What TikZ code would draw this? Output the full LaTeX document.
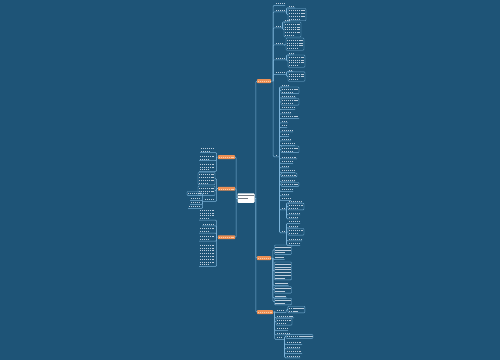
\documentclass[tikz,border=0pt]{standalone}
\begin{document}
\definecolor{bgc}{RGB}{30,84,119}
\definecolor{linec}{RGB}{125,180,218}
\definecolor{txtc}{RGB}{190,207,222}
\definecolor{orng}{RGB}{238,145,85}
\definecolor{orngt}{RGB}{250,205,170}
\definecolor{ctrt}{RGB}{110,120,130}
\tikzset{
 tlg/.style n args={3}{inner sep=0pt, outer sep=0pt, minimum width=#1pt, minimum height={#2*2.8pt+1pt},
   path picture={\foreach \k in {1,...,#2}{
      \pgfmathsetmacro\ww{((\k==#2) && (#2>1)) ? 0.6*(#1-1.6) : (#1-1.6)}
      \draw[#3, line width=0.65pt, dash pattern=on 1.6pt off 0.35pt] (path picture bounding box.north west) ++(0.8,\k*2.8-0.7) -- ++(\ww,0);}}},
 tl/.style 2 args={tlg={#1}{#2}{txtc}},
 bx/.style 2 args={tlg={#1}{#2}{txtc}, draw=linec, line width=0.4pt, rounded corners=0.8pt},
 og/.style={tlg={#1}{1}{orngt}, fill=orng, rounded corners=0.6pt},
 con/.style={draw=linec, line width=0.55pt, rounded corners=1pt},
}
\newcommand\cu[2]{\draw[con] (#1) |- (#2.south west) -- (#2.south east);}
\newcommand\cb[2]{\draw[con] (#1) |- (#2.west);}
\newcommand\cul[2]{\draw[con] (#1) |- (#2.south east) -- (#2.south west);}
\newcommand\cbl[2]{\draw[con] (#1) |- (#2.east);}
\begin{tikzpicture}[x=1pt,y=-1pt]
\fill[bgc] (0,0) rectangle (500,360);
\useasboundingbox (0,0) rectangle (500,360);
% centre
\node[tlg={17}{2}{ctrt}, fill=white, minimum height=9.5pt, rounded corners=0.8pt] (ctr) at (246,198) {};
% main branches
\node[og=14, anchor=north west] (R1) at (257,79.2) {};
\node[og=14, anchor=north west] (R2) at (257,256.2) {};
\node[og=16, anchor=north west] (R3) at (257,310.2) {};
\node[og=17, anchor=north east] (L1) at (235,155.2) {};
\node[og=17, anchor=north east] (L2) at (235,186.8) {};
\node[og=17, anchor=north east] (L3) at (235,235.3) {};
\coordinate (rt) at (255.8,198);
\coordinate (lt) at (236.2,198);
\draw[con] (ctr.east) -- (rt);
\draw[con] (ctr.west) -- (lt);
\cb{rt}{R1}\cb{rt}{R2}\cb{rt}{R3}
\cbl{lt}{L1}\cbl{lt}{L2}\cbl{lt}{L3}
% ---------- R1 ----------
\coordinate (t1) at (273.2,81.1);
\draw[con] (R1.east) -- (t1);
\node[tl={10}{1}, anchor=north west] (a1) at (275,1.5) {};
\node[tl={10}{1}, anchor=north west] (a2) at (275,8) {};
\node[tl={6}{1}, anchor=north west] (a3) at (275,24) {};
\node[tl={8}{1}, anchor=north west] (a4) at (275,41) {};
\node[tl={10}{1}, anchor=north west] (a5) at (275,56) {};
\node[tl={10}{1}, anchor=north west] (a6) at (275,70.5) {};
\node[tl={3}{1}, anchor=north west] (a7) at (275,153) {};
\foreach \n in {a1,a2,a3,a4,a5,a6,a7} {\cu{t1}{\n}}
\node[tl={7}{1}, anchor=north west] (c2) at (288,4) {};
\node[bx={18}{4}, anchor=north west] (b2) at (288,8.5) {};
\coordinate (s2) at (286.5,11.8);
\cu{s2}{c2}\cb{s2}{b2}
\node[tl={6}{1}, anchor=north west] (c3) at (284,18) {};
\node[bx={17}{5}, anchor=north west] (b3) at (284,22) {};
\coordinate (s3) at (282.5,27.8);
\cu{s3}{c3}\cb{s3}{b3}
\node[bx={18}{4}, anchor=north west] (b4) at (286,38) {};
\coordinate (s4) at (284.5,44.8);
\cb{s4}{b4}
\node[tl={6}{1}, anchor=north west] (c5) at (288,51) {};
\node[bx={17}{4}, anchor=north west] (b5) at (288,55) {};
\coordinate (s5) at (286.5,59.8);
\cu{s5}{c5}\cb{s5}{b5}
\node[tl={5}{1}, anchor=north west] (c6) at (288,67.8) {};
\node[bx={17}{3}, anchor=north west] (b6) at (288,71.8) {};
\coordinate (s6) at (286.5,74.3);
\cu{s6}{c6}\cb{s6}{b6}
\draw[con] (a2.south east) -- (s2);
\draw[con] (a3.south east) -- (s3);
\draw[con] (a4.south east) -- (s4);
\draw[con] (a5.south east) -- (s5);
\draw[con] (a6.south east) -- (s6);
% a7 subtree
\coordinate (s7) at (279.5,156.8);
\draw[con] (a7.south east) -- (s7);
\foreach \i/\yy/\w/\n/\b in {1/83/8/1/0,2/87/18/2/1,3/94/15/1/0,4/98.5/18/2/1,5/105.5/14/1/0,6/110/10/1/0,
  7/114.5/18/1/0,8/119/7/1/0,9/123.5/6/1/0,10/128/12/1/0,11/132.5/8/1/0,12/137/10/1/0,13/141.5/14/1/0,
  14/146/18/2/1,15/155/16/1/0,16/159.5/12/1/0,17/164/8/1/0,18/168.5/14/1/0,19/173/16/1/1,20/178/14/1/0,
  21/182.5/18/1/1,22/187.5/12/1/0,23/192/8/1/0,24/196.5/10/1/0} {
  \ifnum\b=1
    \node[bx={\w}{\n}, anchor=north west] (p\i) at (281,\yy) {};
    \cb{s7}{p\i}
  \else
    \node[tl={\w}{\n}, anchor=north west] (p\i) at (281,\yy) {};
    \cu{s7}{p\i}
  \fi
}
\node[tl={4}{1}, anchor=north west] (g1) at (281,206) {};
\node[tl={4}{1}, anchor=north west] (g2) at (281,229) {};
\cu{s7}{g1}\cu{s7}{g2}
\coordinate (sg1) at (286.5,209.8);
\coordinate (sg2) at (286.5,232.8);
\draw[con] (g1.south east) -- (sg1);
\draw[con] (g2.south east) -- (sg2);
\node[tl={14}{1}, anchor=north west] (q1) at (288,199) {};
\node[bx={16}{2}, anchor=north west] (q2) at (288,203.2) {};
\node[tl={12}{1}, anchor=north west] (q3) at (288,211) {};
\node[tl={10}{1}, anchor=north west] (q4) at (288,215) {};
\cu{sg1}{q1}\cb{sg1}{q2}\cu{sg1}{q3}\cu{sg1}{q4}
\node[tl={12}{1}, anchor=north west] (q5) at (288,219.5) {};
\node[tl={10}{1}, anchor=north west] (q6) at (288,224) {};
\node[bx={16}{2}, anchor=north west] (q7) at (288,228.5) {};
\node[tl={14}{1}, anchor=north west] (q8) at (288,237) {};
\node[tl={12}{1}, anchor=north west] (q9) at (288,241.5) {};
\cu{sg2}{q5}\cu{sg2}{q6}\cb{sg2}{q7}\cu{sg2}{q8}\cu{sg2}{q9}
% ---------- R2 ----------
\coordinate (t2) at (272.8,258.1);
\draw[con] (R2.east) -- (t2);
\node[bx={17}{3}, anchor=north west] (m1) at (274.5,245) {};
\node[tl={10}{1}, anchor=north west] (m2) at (274.5,255.5) {};
\node[bx={17}{6}, anchor=north west] (m3) at (274.5,262) {};
\node[tl={14}{1}, anchor=north west] (m4) at (274.5,281.5) {};
\node[bx={17}{2}, anchor=north west] (m5) at (274.5,286.5) {};
\node[tl={12}{1}, anchor=north west] (m6) at (274.5,294.2) {};
\node[bx={17}{2}, anchor=north west] (m7) at (274.5,298.2) {};
\cb{t2}{m1}\cu{t2}{m2}\cb{t2}{m3}\cu{t2}{m4}\cb{t2}{m5}\cu{t2}{m6}\cb{t2}{m7}
% ---------- R3 ----------
\coordinate (t3) at (274.6,312.1);
\draw[con] (R3.east) -- (t3);
\node[tl={9}{1}, anchor=north west] (d1) at (276,308.5) {};
\cu{t3}{d1}
\coordinate (sd1) at (286.2,312.3);
\draw[con] (d1.south east) -- (sd1);
\node[bx={17}{2}, anchor=north west] (d1b) at (287.8,306.2) {};
\cb{sd1}{d1b}
\node[tl={18}{1}, anchor=north west] (d2) at (276,314) {};
\node[bx={16}{2}, anchor=north west] (d3) at (276,318.5) {};
\node[tl={12}{1}, anchor=north west] (d4) at (276,326.5) {};
\node[tl={14}{1}, anchor=north west] (d5) at (276,331) {};
\node[tl={7}{1}, anchor=north west] (d6) at (276,335.5) {};
\cu{t3}{d2}\cb{t3}{d3}\cu{t3}{d4}\cu{t3}{d5}\cu{t3}{d6}
\coordinate (sd6) at (284.5,339.3);
\draw[con] (d6.south east) -- (sd6);
\node[bx={27}{1}, anchor=north west] (e1) at (286,334.6) {};
\node[tl={16}{1}, anchor=north west] (e2) at (286,340.5) {};
\node[tl={14}{1}, anchor=north west] (e3) at (286,345) {};
\node[tl={16}{1}, anchor=north west] (e4) at (286,349.5) {};
\node[tl={14}{1}, anchor=north west] (e5) at (286,354) {};
\cb{sd6}{e1}\cu{sd6}{e2}\cu{sd6}{e3}\cu{sd6}{e4}\cu{sd6}{e5}
% ---------- L1 ----------
\coordinate (u1) at (216.6,157.1);
\draw[con] (L1.west) -- (u1);
\node[tl={15}{2}, anchor=north east] (k1) at (215,146) {};
\node[tl={16}{2}, anchor=north east] (k2) at (215,154) {};
\node[tl={16}{3}, anchor=north east] (k3) at (215,162) {};
\cul{u1}{k1}\cul{u1}{k2}\cul{u1}{k3}
% ---------- L2 ----------
\coordinate (u2) at (216.6,188.7);
\draw[con] (L2.west) -- (u2);
\node[bx={17}{4}, anchor=north east] (k4) at (215,172.5) {};
\node[bx={17}{3}, anchor=north east] (k5) at (215,186) {};
\node[tl={11}{1}, anchor=north east] (k6) at (215,197.5) {};
\cbl{u2}{k4}\cbl{u2}{k5}\cul{u2}{k6}
\coordinate (v6) at (202.6,201.3);
\draw[con] (k6.south west) -- (v6);
\node[bx={14}{1}, anchor=north east] (h1) at (201,191.5) {};
\node[tl={11}{1}, anchor=north east] (h2) at (201,196.5) {};
\node[tl={11}{1}, anchor=north east] (h3) at (201,200.5) {};
\node[tl={13}{1}, anchor=north east] (h4) at (201,204.5) {};
\cbl{v6}{h1}\cul{v6}{h2}\cul{v6}{h3}\cul{v6}{h4}
% ---------- L3 ----------
\coordinate (u3) at (216.6,237.1);
\draw[con] (L3.west) -- (u3);
\node[tl={16}{4}, anchor=north east] (k7) at (215,208) {};
\node[tl={13}{1}, anchor=north east] (k8) at (215,222) {};
\node[tl={16}{2}, anchor=north east] (k9) at (215,226.5) {};
\node[tl={16}{2}, anchor=north east] (k10) at (215,234.5) {};
\node[tl={16}{8}, anchor=north east] (k11) at (215,243) {};
\cul{u3}{k7}\cul{u3}{k8}\cul{u3}{k9}\cul{u3}{k10}\cul{u3}{k11}
\end{tikzpicture}
\end{document}
